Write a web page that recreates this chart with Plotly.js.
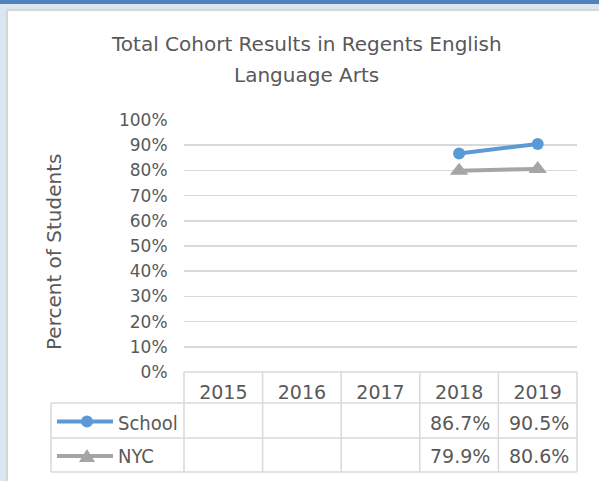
<!DOCTYPE html>
<html>
<head>
<meta charset="utf-8">
<script src="https://cdn.plot.ly/plotly-3.0.1.min.js"></script>
<style>
  html, body { margin: 0; padding: 0; width: 599px; height: 481px; overflow: hidden; background: #dce6f1; }
  #topbar { position: absolute; left: 0; top: 0; width: 599px; height: 4px; background: #4f81bd; }
  #panel { position: absolute; left: 6px; top: 9px; right: 0; bottom: 0; background: #ffffff;
           border-left: 2px solid #d6d6d6; border-top: 2px solid #d6d6d6; }
  #chart { position: absolute; left: 0; top: 0; width: 599px; height: 481px; }
</style>
</head>
<body>
<div id="topbar"></div>
<div id="panel"></div>
<div id="chart"></div>
<script>
// ---- data ----
var years = ['2015', '2016', '2017', '2018', '2019'];
var schoolValues = [null, null, null, 86.7, 90.5];
var nycValues = [null, null, null, 79.9, 80.6];
var seriesNames = ['School', 'NYC'];
var yTickValues = [0, 10, 20, 30, 40, 50, 60, 70, 80, 90, 100];
var titleLines = ['Total Cohort Results in Regents English', 'Language Arts'];
var yTitle = 'Percent of Students';

// ---- geometry (pixels) ----
var FW = 599, FH = 481;
var L = 184, R = 577, T = 120, B = 372;
var PW = R - L, PH = B - T;
function px2x(px) { return (px - L) / PW; }
function px2y(py) { return (B - py) / PH; }

var textColor = '#595959';
var gridColor = '#d9d9d9';
var blue = '#5b9bd5';
var grey = '#a5a5a5';
var mainFont = 'DejaVu Sans, Verdana, sans-serif';
var narrowFont = 'DejaVu Sans Condensed, Liberation Sans Narrow, DejaVu Sans, sans-serif';

var traces = [
  {
    type: 'scatter', mode: 'lines+markers', name: seriesNames[0],
    x: years, y: schoolValues,
    line: { color: blue, width: 4 },
    marker: { symbol: 'circle', size: 12, color: blue },
    hoverinfo: 'x+y', cliponaxis: false
  },
  {
    type: 'scatter', mode: 'lines+markers', name: seriesNames[1],
    x: years, y: nycValues,
    line: { color: grey, width: 4 },
    marker: { symbol: 'triangle-up', size: 16, color: grey },
    hoverinfo: 'x+y', cliponaxis: false
  }
];

// ---- data table below the plot ----
var rowHeader = { top: 372, bottom: 403 };
var rows = [ { top: 403, bottom: 438 }, { top: 438, bottom: 472 } ];
var tableLeft = 51;
var shapes = [];
function hline(py, x0px, x1px) {
  shapes.push({ type: 'line', xref: 'paper', yref: 'paper',
    x0: px2x(x0px), x1: px2x(x1px), y0: px2y(py), y1: px2y(py),
    line: { color: gridColor, width: 1.5 }, layer: 'below' });
}
function vline(pxX, y0px, y1px) {
  shapes.push({ type: 'line', xref: 'paper', yref: 'paper',
    x0: px2x(pxX), x1: px2x(pxX), y0: px2y(y0px), y1: px2y(y1px),
    line: { color: gridColor, width: 1.5 }, layer: 'below' });
}
hline(rowHeader.top, L, R);
hline(rows[0].top, tableLeft, R);
hline(rows[1].top, tableLeft, R);
hline(rows[1].bottom, tableLeft, R);
vline(tableLeft, rows[0].top, rows[1].bottom);
for (var k = 0; k <= years.length; k++) {
  vline(L + PW * k / years.length, rowHeader.top, rows[1].bottom);
}

// legend keys inside table
var keyCx = 87;
var r0c = (rows[0].top + rows[0].bottom) / 2 + 2;
var r1c = (rows[1].top + rows[1].bottom) / 2 + 1;
shapes.push({ type: 'line', xref: 'paper', yref: 'paper',
  x0: px2x(57), x1: px2x(113), y0: px2y(r0c - 1), y1: px2y(r0c - 1),
  line: { color: blue, width: 4 } });
shapes.push({ type: 'circle', xref: 'paper', yref: 'paper',
  x0: px2x(keyCx - 6), x1: px2x(keyCx + 6), y0: px2y(r0c - 7), y1: px2y(r0c + 5),
  fillcolor: blue, line: { color: blue, width: 0 } });
shapes.push({ type: 'line', xref: 'paper', yref: 'paper',
  x0: px2x(57), x1: px2x(113), y0: px2y(r1c), y1: px2y(r1c),
  line: { color: grey, width: 4 } });
shapes.push({ type: 'path', xref: 'paper', yref: 'paper',
  path: 'M' + px2x(keyCx - 8) + ',' + px2y(r1c + 6) + ' L' + px2x(keyCx + 8) + ',' + px2y(r1c + 6) +
        ' L' + px2x(keyCx) + ',' + px2y(r1c - 7) + ' Z',
  fillcolor: grey, line: { color: grey, width: 0 } });

var annotations = [];
// title
annotations.push({ text: titleLines[0], xref: 'paper', yref: 'paper', x: px2x(306), y: px2y(44),
  xanchor: 'center', yanchor: 'middle', showarrow: false, font: { family: mainFont, size: 20, color: textColor } });
annotations.push({ text: titleLines[1], xref: 'paper', yref: 'paper', x: px2x(306), y: px2y(75),
  xanchor: 'center', yanchor: 'middle', showarrow: false, font: { family: mainFont, size: 20, color: textColor } });
// y title
annotations.push({ text: yTitle, xref: 'paper', yref: 'paper', x: px2x(54), y: px2y(252),
  xanchor: 'center', yanchor: 'middle', textangle: -90, showarrow: false,
  font: { family: mainFont, size: 20, color: textColor } });
// series labels
annotations.push({ text: seriesNames[0], xref: 'paper', yref: 'paper', x: px2x(116), y: px2y(r0c),
  xanchor: 'left', yanchor: 'middle', showarrow: false, font: { family: narrowFont, size: 20, color: textColor } });
annotations.push({ text: seriesNames[1], xref: 'paper', yref: 'paper', x: px2x(116), y: px2y(r1c),
  xanchor: 'left', yanchor: 'middle', showarrow: false, font: { family: narrowFont, size: 20, color: textColor } });
// values
var allSeries = [schoolValues, nycValues];
var rowCenters = [r0c, r1c];
for (var s = 0; s < allSeries.length; s++) {
  for (var j = 0; j < years.length; j++) {
    var v = allSeries[s][j];
    if (v === null) continue;
    annotations.push({ text: v.toFixed(1) + '%', xref: 'paper', yref: 'paper',
      x: px2x(L + PW * (j + 1) / years.length - 6), y: px2y(rowCenters[s]),
      xanchor: 'right', yanchor: 'middle', showarrow: false,
      font: { family: mainFont, size: 19, color: textColor } });
  }
}

var layout = {
  width: FW, height: FH,
  margin: { l: L, r: FW - R, t: T, b: FH - B, pad: 0 },
  paper_bgcolor: 'rgba(0,0,0,0)', plot_bgcolor: 'rgba(0,0,0,0)',
  showlegend: false,
  font: { family: mainFont, color: textColor },
  xaxis: {
    type: 'category', range: [-0.5, years.length - 0.5], fixedrange: true,
    showgrid: false, zeroline: false, showline: false,
    ticks: 'outside', ticklen: 3, tickcolor: 'rgba(0,0,0,0)',
    tickfont: { family: mainFont, size: 19, color: textColor },
    automargin: false
  },
  yaxis: {
    range: [0, 100], fixedrange: true,
    tickvals: yTickValues, ticktext: yTickValues.map(function (t) { return t + '%'; }),
    showgrid: true, gridcolor: gridColor, gridwidth: 1.5,
    zeroline: false, showline: false,
    ticks: 'outside', ticklen: 12, tickcolor: 'rgba(0,0,0,0)',
    tickfont: { family: mainFont, size: 17, color: textColor },
    automargin: false
  },
  shapes: shapes,
  annotations: annotations
};

Plotly.newPlot('chart', traces, layout, { displayModeBar: false, staticPlot: true });
</script>
</body>
</html>
